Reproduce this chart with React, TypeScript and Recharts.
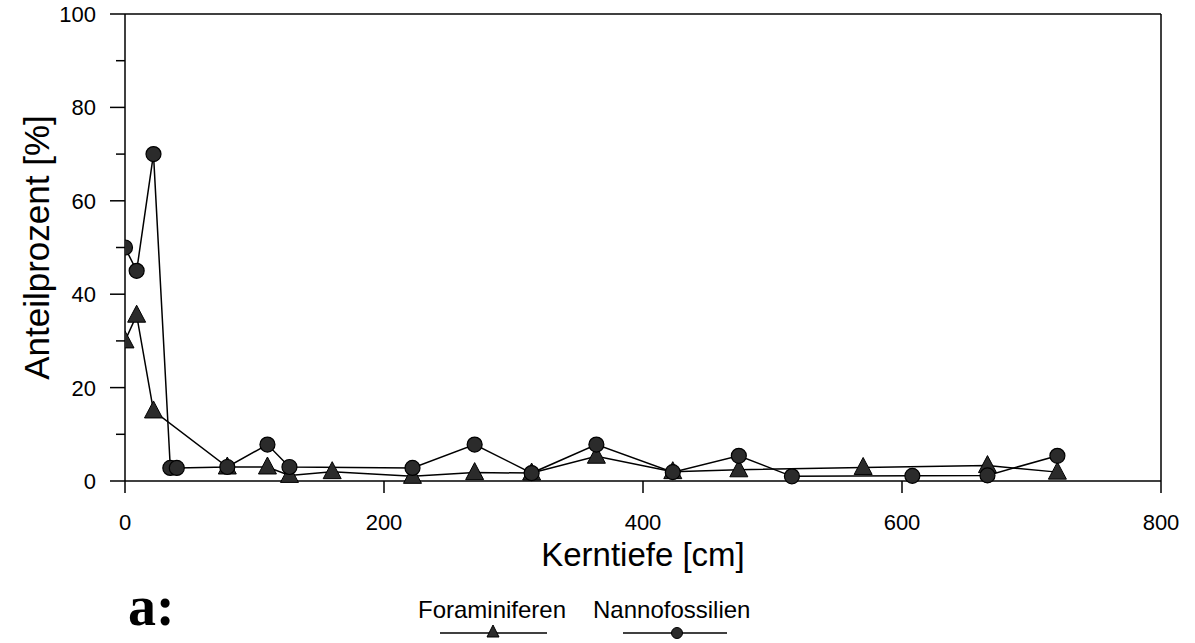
import { LineChart, Line, XAxis, YAxis, ReferenceLine } from "recharts";

// Kerntiefe [cm] / Anteilprozent [%]
const foraDepth = [0, 9, 22, 79, 110, 127, 160, 222, 270, 314, 364, 423, 474, 570, 666, 720];
const foraPct = [30, 35.5, 15, 3, 3, 1.2, 2, 1, 1.8, 1.7, 5.3, 2, 2.4, 2.9, 3.3, 1.9];

const nannoDepth = [0, 9, 22, 35, 40, 79, 110, 127, 222, 270, 314, 364, 423, 474, 515, 608, 666, 720];
const nannoPct = [50, 45, 70, 2.8, 2.8, 3, 7.8, 3, 2.8, 7.8, 1.7, 7.8, 1.9, 5.4, 1, 1.1, 1.2, 5.4];

const xTicks = [0, 200, 400, 600, 800];
const yTicks = [0, 10, 20, 30, 40, 50, 60, 70, 80, 90, 100];

const fora = foraDepth.map((d, i) => ({ depth: d, pct: foraPct[i] }));
const nanno = nannoDepth.map((d, i) => ({ depth: d, pct: nannoPct[i] }));

const MARK = "#2b2b2b";

const TriangleDot = (props: any) => {
  const { cx, cy } = props;
  if (cx == null || cy == null) return null;
  return (
    <path
      d={`M${cx},${cy - 10} L${cx + 9},${cy + 7} L${cx - 9},${cy + 7} Z`}
      fill={MARK}
      stroke="#000"
      strokeWidth={1}
    />
  );
};

const CircleDot = (props: any) => {
  const { cx, cy } = props;
  if (cx == null || cy == null) return null;
  return <circle cx={cx} cy={cy} r={7.5} fill={MARK} stroke="#000" strokeWidth={1.2} />;
};

const YTick = ({ x, y, payload }: any) => {
  const v = payload.value;
  const major = v % 20 === 0;
  return (
    <g>
      <line x1={x - (major ? 15 : 9)} x2={x} y1={y} y2={y} stroke="#000" strokeWidth={1.5} />
      {major && (
        <text x={x - 29} y={y} dy="0.36em" textAnchor="end" fontSize={22} fill="#000">
          {v}
        </text>
      )}
    </g>
  );
};

const YTitle = ({ viewBox }: any) => {
  const cx = 36;
  const cy = viewBox ? viewBox.y + viewBox.height / 2 : 248;
  return (
    <text
      x={cx}
      y={cy}
      transform={`rotate(-90, ${cx}, ${cy})`}
      textAnchor="middle"
      dy="0.36em"
      fontSize={35}
      fill="#000"
    >
      Anteilprozent [%]
    </text>
  );
};

const App = () => {
  return (
    <div
      style={{
        position: "absolute",
        left: 0,
        top: 0,
        width: 1195,
        height: 643,
        background: "#fff",
        fontFamily: "'Liberation Sans', Arial, sans-serif",
      }}
    >
      <LineChart width={1195} height={643} margin={{ top: 14, right: 34, bottom: 0, left: 0 }}>
        <XAxis
          type="number"
          dataKey="depth"
          domain={[0, 800]}
          ticks={xTicks}
          allowDataOverflow
          height={162}
          axisLine={{ stroke: "#000", strokeWidth: 1.5 }}
          tickLine={{ stroke: "#000", strokeWidth: 1.5 }}
          tickSize={12}
          tickMargin={21}
          tick={{ fontSize: 22, fill: "#000" }}
          label={{ value: "Kerntiefe [cm]", position: "insideTop", offset: 62, fontSize: 33, fill: "#000" }}
        />
        <YAxis
          type="number"
          domain={[0, 100]}
          ticks={yTicks}
          interval={0}
          width={125}
          axisLine={{ stroke: "#000", strokeWidth: 1.5 }}
          tickLine={false}
          tickSize={0}
          tickMargin={0}
          tick={<YTick />}
          label={<YTitle />}
        />
        <ReferenceLine y={100} stroke="#000" strokeWidth={1.5} />
        <ReferenceLine x={800} stroke="#000" strokeWidth={1.5} />
        <Line
          data={fora}
          dataKey="pct"
          name="Foraminiferen"
          type="linear"
          stroke="#000"
          strokeWidth={1.5}
          dot={<TriangleDot />}
          activeDot={false}
          isAnimationActive={false}
        />
        <Line
          data={nanno}
          dataKey="pct"
          name="Nannofossilien"
          type="linear"
          stroke="#000"
          strokeWidth={1.5}
          dot={<CircleDot />}
          activeDot={false}
          isAnimationActive={false}
        />
      </LineChart>
      <svg
        width={1195}
        height={643}
        style={{ position: "absolute", left: 0, top: 0, pointerEvents: "none" }}
      >
        <text x={128} y={625} fontFamily="'Liberation Serif', serif" fontWeight="bold" fontSize={56} fill="#000">
          a:
        </text>
        <text x={418} y={618} fontSize={24} fill="#000">
          Foraminiferen
        </text>
        <line x1={440} x2={547} y1={633} y2={633} stroke="#000" strokeWidth={1.5} />
        <path d="M493,625 L499,637 L487,637 Z" fill={MARK} stroke="#000" strokeWidth={1} />
        <text x={593} y={618} fontSize={24} fill="#000">
          Nannofossilien
        </text>
        <line x1={623} x2={727} y1={633} y2={633} stroke="#000" strokeWidth={1.5} />
        <circle cx={677} cy={633} r={5.5} fill={MARK} stroke="#000" strokeWidth={1} />
      </svg>
    </div>
  );
};

export default App;
